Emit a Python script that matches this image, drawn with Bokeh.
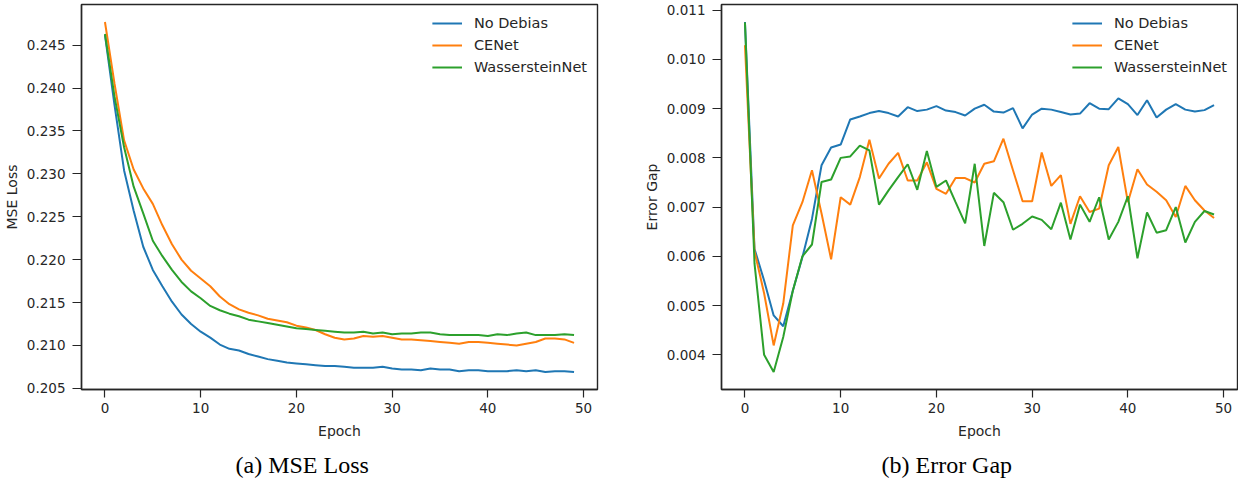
from bokeh.plotting import figure
from bokeh.layouts import row
from bokeh.models import (FixedTicker, NumeralTickFormatter, Legend, LegendItem,
                          Range1d, Title)
from bokeh.embed import file_html
from bokeh.resources import INLINE

epochs = list(range(50))
series_names = ["No Debias", "CENet", "WassersteinNet"]
colors = ["#1f77b4", "#ff7f0e", "#2ca02c"]

mse_no_debias = [0.2462, 0.2380, 0.2304, 0.2257, 0.2215, 0.2188, 0.2169, 0.2151, 0.2136, 0.2125,
                 0.2116, 0.2109, 0.2101, 0.2096, 0.2094, 0.2090, 0.2087, 0.2084, 0.2082, 0.2080,
                 0.2079, 0.2078, 0.2077, 0.2076, 0.2076, 0.2075, 0.2074, 0.2074, 0.2074, 0.2075,
                 0.2073, 0.2072, 0.2072, 0.2071, 0.2073, 0.2072, 0.2072, 0.2070, 0.2071, 0.2071,
                 0.2070, 0.2070, 0.2070, 0.2071, 0.2070, 0.2071, 0.2069, 0.2070, 0.2070, 0.2069]
mse_cenet = [0.2477, 0.2405, 0.2339, 0.2305, 0.2283, 0.2265, 0.2240, 0.2218, 0.2200, 0.2187,
             0.2178, 0.2169, 0.2157, 0.2148, 0.2142, 0.2138, 0.2135, 0.2131, 0.2129, 0.2127,
             0.2123, 0.2121, 0.2118, 0.2113, 0.2109, 0.2107, 0.2108, 0.2111, 0.2110, 0.2111,
             0.2109, 0.2107, 0.2107, 0.2106, 0.2105, 0.2104, 0.2103, 0.2102, 0.2104, 0.2104,
             0.2103, 0.2102, 0.2101, 0.2100, 0.2102, 0.2104, 0.2108, 0.2108, 0.2107, 0.2103]
mse_wass = [0.2463, 0.2390, 0.2331, 0.2285, 0.2254, 0.2222, 0.2204, 0.2188, 0.2174, 0.2163,
            0.2155, 0.2146, 0.2141, 0.2137, 0.2134, 0.2130, 0.2128, 0.2126, 0.2124, 0.2122,
            0.2120, 0.2119, 0.2118, 0.2117, 0.2116, 0.2115, 0.2115, 0.2116, 0.2114, 0.2115,
            0.2113, 0.2114, 0.2114, 0.2115, 0.2115, 0.2113, 0.2112, 0.2112, 0.2112, 0.2112,
            0.2111, 0.2113, 0.2112, 0.2114, 0.2115, 0.2112, 0.2112, 0.2112, 0.2113, 0.2112]

gap_no_debias = [0.01076, 0.00615, 0.00551, 0.00480, 0.00458, 0.00530, 0.00598, 0.00676, 0.00785, 0.00821,
                 0.00827, 0.00878, 0.00884, 0.00891, 0.00895, 0.00891, 0.00884, 0.00903, 0.00895, 0.00898,
                 0.00905, 0.00896, 0.00893, 0.00886, 0.00900, 0.00908, 0.00894, 0.00892, 0.00901, 0.00860,
                 0.00888, 0.00900, 0.00898, 0.00893, 0.00888, 0.00890, 0.00911, 0.00900, 0.00899, 0.00921,
                 0.00909, 0.00887, 0.00917, 0.00882, 0.00898, 0.00909, 0.00898, 0.00894, 0.00897, 0.00907]
gap_cenet = [0.01029, 0.00610, 0.00525, 0.00419, 0.00504, 0.00663, 0.00710, 0.00775, 0.00687, 0.00594,
             0.00720, 0.00705, 0.00761, 0.00837, 0.00758, 0.00788, 0.00810, 0.00754, 0.00754, 0.00791,
             0.00737, 0.00727, 0.00759, 0.00759, 0.00750, 0.00788, 0.00793, 0.00839, 0.00775, 0.00712,
             0.00712, 0.00811, 0.00743, 0.00765, 0.00666, 0.00722, 0.00690, 0.00697, 0.00785, 0.00822,
             0.00710, 0.00777, 0.00746, 0.00731, 0.00714, 0.00680, 0.00743, 0.00714, 0.00693, 0.00678]
gap_wass = [0.01075, 0.00585, 0.00400, 0.00365, 0.00436, 0.00530, 0.00600, 0.00624, 0.00751, 0.00756,
            0.00800, 0.00803, 0.00825, 0.00815, 0.00705, 0.00734, 0.00761, 0.00787, 0.00735, 0.00814,
            0.00741, 0.00754, 0.00710, 0.00667, 0.00788, 0.00621, 0.00729, 0.00710, 0.00654, 0.00666,
            0.00681, 0.00674, 0.00655, 0.00709, 0.00634, 0.00705, 0.00670, 0.00720, 0.00634, 0.00670,
            0.00722, 0.00596, 0.00689, 0.00648, 0.00653, 0.00700, 0.00628, 0.00670, 0.00692, 0.00685]

x_ticks = [0, 10, 20, 30, 40, 50]
mse_ticks = [0.205, 0.210, 0.215, 0.220, 0.225, 0.230, 0.235, 0.240, 0.245]
gap_ticks = [0.004, 0.005, 0.006, 0.007, 0.008, 0.009, 0.010, 0.011]

INK = "#262626"
SANS = "DejaVu Sans"
SERIF = "Liberation Serif"


def auto_range(values_lists):
    lo = min(min(v) for v in values_lists)
    hi = max(max(v) for v in values_lists)
    m = (hi - lo) * 0.05
    return Range1d(lo - m, hi + m)


def make_plot(series, yticks, ylabel, caption, width, border_left, border_right, cap_offset):
    xm = (max(epochs) - min(epochs)) * 0.05
    p = figure(width=width, height=486, output_backend="svg", toolbar_location=None,
               x_range=Range1d(min(epochs) - xm, max(epochs) + xm),
               y_range=auto_range(series),
               min_border_left=border_left, min_border_right=border_right,
               min_border_top=4, min_border_bottom=97)
    p.background_fill_color = "white"
    p.border_fill_color = "white"
    p.outline_line_color = INK
    p.outline_line_width = 1.4
    p.xgrid.visible = False
    p.ygrid.visible = False

    items = []
    for name, vals, c in zip(series_names, series, colors):
        r = p.line(epochs, vals, line_color=c, line_width=2)
        items.append(LegendItem(label=name, renderers=[r]))

    for ax in (p.xaxis[0], p.yaxis[0]):
        ax.axis_line_color = INK
        ax.axis_line_width = 1.4
        ax.major_tick_line_color = INK
        ax.major_tick_line_width = 1.2
        ax.major_tick_in = 0
        ax.minor_tick_line_color = None
        ax.major_label_text_font = SANS
        ax.major_label_text_font_size = "13.5px"
        ax.major_label_text_color = INK
        ax.axis_label_text_font = SANS
        ax.axis_label_text_font_size = "14px"
        ax.axis_label_text_font_style = "normal"
        ax.axis_label_text_color = INK

    xa = p.xaxis[0]
    xa.major_tick_out = 8
    xa.major_label_standoff = 5
    xa.axis_label_standoff = 7
    ya = p.yaxis[0]
    ya.major_tick_out = 9
    ya.major_label_standoff = 7
    ya.axis_label_standoff = 4

    p.xaxis.ticker = FixedTicker(ticks=x_ticks)
    p.xaxis.axis_label = "Epoch"
    p.yaxis.ticker = FixedTicker(ticks=yticks)
    p.yaxis.formatter = NumeralTickFormatter(format="0.000")
    p.yaxis.axis_label = ylabel

    legend = Legend(items=items, location="top_right", border_line_color=None,
                    background_fill_alpha=0, label_text_font=SANS,
                    label_text_font_size="14.5px", label_text_color=INK,
                    glyph_width=30, glyph_height=18, label_height=18,
                    label_standoff=12, spacing=4, padding=8, margin=10)
    p.add_layout(legend)

    t = Title(text=caption, text_font=SERIF, text_font_size="24px",
              text_font_style="normal", text_color="black", align="left",
              offset=cap_offset, standoff=16)
    p.add_layout(t, "below")
    return p


p1 = make_plot([mse_no_debias, mse_cenet, mse_wass], mse_ticks, "MSE Loss",
               "(a) MSE Loss", 640, 79, 43, 154)
p2 = make_plot([gap_no_debias, gap_cenet, gap_wass], gap_ticks, "Error Gap",
               "(b) Error Gap", 598, 81, 1, 160)

layout = row(p1, p2)

with open("out.html", "w") as f:
    f.write(file_html(layout, INLINE))
